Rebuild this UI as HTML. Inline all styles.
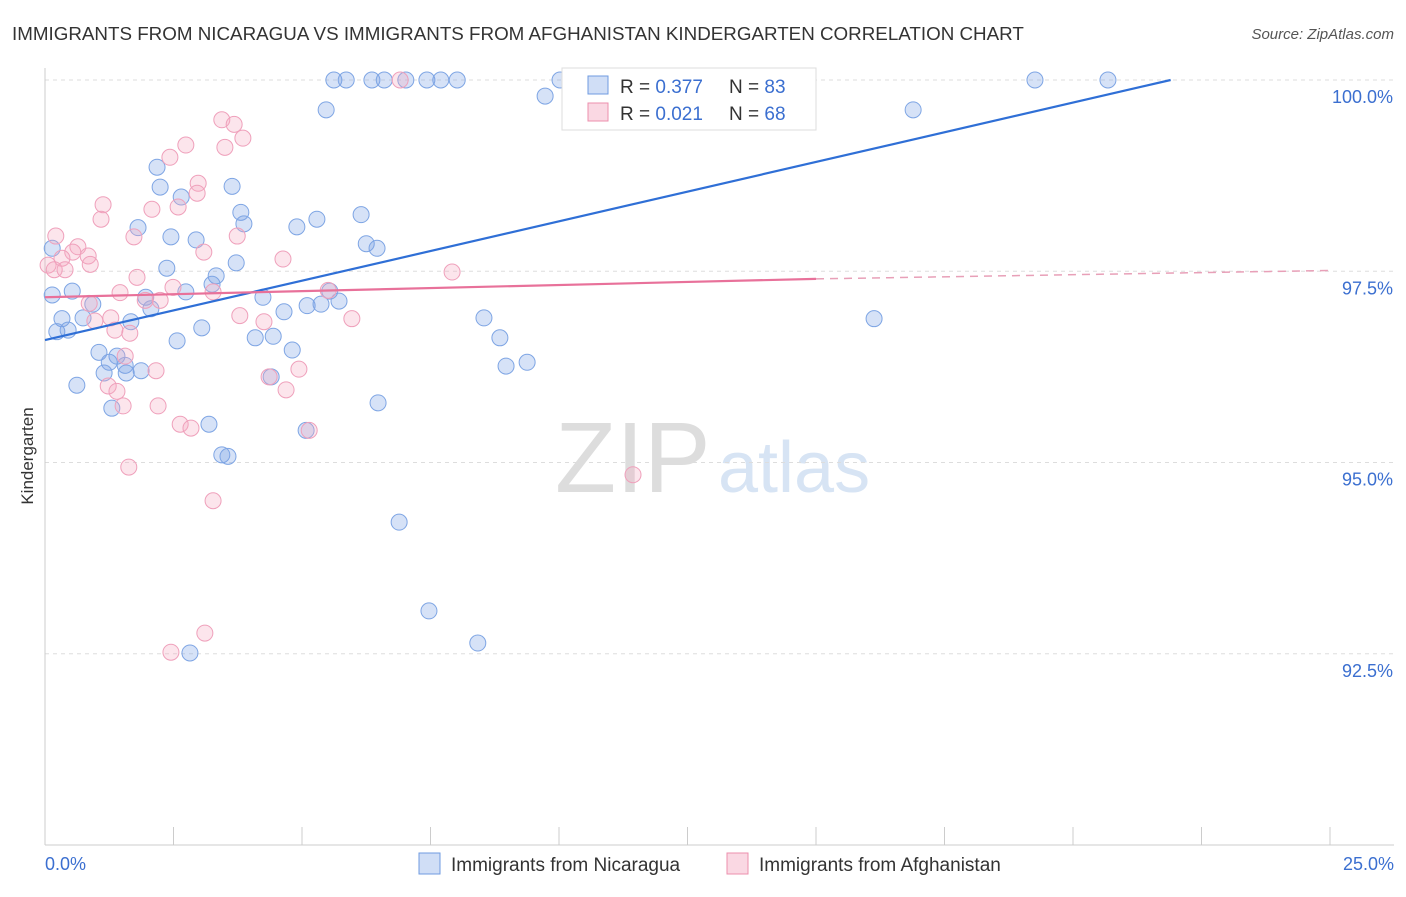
<!DOCTYPE html>
<html><head><meta charset="utf-8"><style>
body{margin:0;background:#fff;font-family:"Liberation Sans",sans-serif;}
svg text{font-family:"Liberation Sans",sans-serif;}
</style></head><body>
<svg id="chart" width="1406" height="892" xmlns="http://www.w3.org/2000/svg">
<text x="12" y="40" font-size="18.8" fill="#333">IMMIGRANTS FROM NICARAGUA VS IMMIGRANTS FROM AFGHANISTAN KINDERGARTEN CORRELATION CHART</text>
<text x="1394" y="39" font-size="15" fill="#555" text-anchor="end" font-style="italic">Source: ZipAtlas.com</text>
<text x="33" y="456" font-size="17" fill="#333" text-anchor="middle" transform="rotate(-90 33 456)">Kindergarten</text>
<text x="555" y="492" font-size="100" fill="#ddd" font-family="Liberation Serif">ZIP</text>
<text x="718" y="492" font-size="72" fill="#d7e4f4">atlas</text>
<g id="grid"></g><g id="axes"></g><g id="marks"></g>
<g>
<rect x="562" y="68" width="254" height="62" fill="#fff" stroke="#ddd"/>
<rect x="588" y="76" width="20" height="18" fill="rgba(120,160,230,0.35)" stroke="#6f9be0"/>
<text x="620" y="93" font-size="19" fill="#333">R = <tspan fill="#3b6fd0">0.377</tspan></text>
<text x="729" y="93" font-size="19" fill="#333">N = <tspan fill="#3b6fd0">83</tspan></text>
<rect x="588" y="103" width="20" height="18" fill="rgba(244,169,192,0.45)" stroke="#ec8fae"/>
<text x="620" y="120" font-size="19" fill="#333">R = <tspan fill="#3b6fd0">0.021</tspan></text>
<text x="729" y="120" font-size="19" fill="#333">N = <tspan fill="#3b6fd0">68</tspan></text>
</g>
<g>
<rect x="419" y="853" width="21" height="21" fill="rgba(120,160,230,0.35)" stroke="#6f9be0"/>
<text x="451" y="871" font-size="19" fill="#333">Immigrants from Nicaragua</text>
<rect x="727" y="853" width="21" height="21" fill="rgba(244,169,192,0.45)" stroke="#ec8fae"/>
<text x="759" y="871" font-size="19" fill="#333">Immigrants from Afghanistan</text>
</g>
</svg>
<script>
const blueX=[5.62,5.86,6.36,6.60,7.02,7.43,7.70,8.02,10.02,11.98,19.26,20.68,5.47,9.73,16.89,2.18,2.24,2.65,3.64,3.81,3.87,1.81,2.45,2.94,4.90,5.29,6.15,6.25,6.46,3.72,2.37,3.33,3.25,2.74,1.96,2.06,4.24,4.65,5.10,5.37,5.72,5.54,0.14,0.14,0.53,0.93,0.33,0.74,0.23,0.45,1.67,3.05,2.57,4.09,4.44,4.81,1.05,1.40,1.25,1.56,1.87,1.15,1.58,0.62,1.30,3.19,3.44,3.56,6.48,8.54,8.85,8.97,9.38,16.13,6.89,7.47,8.42,2.82,5.08,4.40];
const blueY=[100,100,100,100,100,100,100,100,100,100,100,100,99.61,99.79,99.61,98.86,98.60,98.47,98.61,98.27,98.12,98.07,97.95,97.91,98.08,98.18,98.24,97.86,97.80,97.61,97.54,97.44,97.33,97.23,97.16,97.01,97.16,96.97,97.05,97.07,97.11,97.24,97.80,97.19,97.24,97.07,96.88,96.89,96.71,96.73,96.84,96.76,96.59,96.63,96.65,96.47,96.44,96.39,96.31,96.27,96.20,96.17,96.17,96.01,95.71,95.50,95.10,95.08,95.78,96.89,96.63,96.26,96.31,96.88,94.22,93.06,92.64,92.51,95.42,96.12];
const pinkX=[6.91,10.41,3.44,3.68,3.85,2.74,2.43,3.50,2.98,2.96,1.13,1.09,2.08,2.59,0.21,1.73,3.74,0.64,0.54,0.84,0.33,0.06,0.18,0.39,0.88,3.09,4.63,1.79,7.92,1.46,2.49,0.86,1.95,2.24,5.51,3.27,3.79,4.26,5.97,0.97,1.28,1.36,1.65,1.56,1.23,1.40,1.52,2.16,4.36,4.69,4.94,2.20,2.63,2.84,5.14,1.63,11.44,3.27,3.11,2.45];
const pinkY=[100,100,99.48,99.42,99.24,99.15,98.99,99.12,98.65,98.52,98.37,98.18,98.31,98.34,97.96,97.95,97.96,97.82,97.75,97.70,97.67,97.58,97.52,97.52,97.59,97.75,97.66,97.42,97.49,97.22,97.29,97.08,97.12,97.12,97.25,97.23,96.92,96.84,96.88,96.85,96.89,96.73,96.69,96.39,96.00,95.93,95.74,96.20,96.12,95.95,96.22,95.74,95.50,95.45,95.42,94.94,94.84,94.50,92.77,92.52];
const yTicks=[100,97.5,95,92.5];
const yTickLabels=["100.0%","97.5%","95.0%","92.5%"];
const xTicks=[0,2.5,5,7.5,10,12.5,15,17.5,20,22.5,25];
const blueTrend=[[0,96.6],[21.9,100]];
const pinkTrendSolid=[[0,97.16],[15,97.4]];
const pinkTrendDash=[[15,97.4],[25,97.51]];
const NS="http://www.w3.org/2000/svg";
const sx=v=>45+v*51.4, sy=v=>80+(100-v)*76.5;
function mk(tag,attrs,parent){const e=document.createElementNS(NS,tag);for(const k in attrs)e.setAttribute(k,attrs[k]);parent.appendChild(e);return e;}
const grid=document.getElementById('grid'),axes=document.getElementById('axes'),marks=document.getElementById('marks');
yTicks.forEach((t,i)=>{
 const l=mk('line',{x1:45,x2:1394,y1:sy(t),y2:sy(t),stroke:'#ddd','stroke-dasharray':'4,4'},grid);
 
 
 const tx=mk('text',{x:1393,y:sy(t)+23,'font-size':18,fill:'#3b6fd0','text-anchor':'end'},axes);
 tx.textContent=yTickLabels[i];
 
 
});
const xa=mk('line',{x1:45,x2:1394,y1:845,y2:845,stroke:'#ccc'},axes);


const ya=mk('line',{x1:45,x2:45,y1:68,y2:845,stroke:'#ccc'},axes);


xTicks.forEach(t=>{
 const l=mk('line',{x1:sx(t),x2:sx(t),y1:827,y2:845,stroke:'#ccc'},axes);
 
 
});
const xl0=mk('text',{x:45,y:870,'font-size':18,fill:'#3b6fd0'},axes);xl0.textContent="0.0%";


const xl1=mk('text',{x:1394,y:870,'font-size':18,fill:'#3b6fd0','text-anchor':'end'},axes);xl1.textContent="25.0%";


blueX.forEach((x,i)=>{
 const c=mk('circle',{cx:sx(x),cy:sy(blueY[i]),r:8,fill:'rgba(120,160,230,0.3)',stroke:'#7ea5e4','stroke-width':1},marks);
 
 
});
pinkX.forEach((x,i)=>{
 const c=mk('circle',{cx:sx(x),cy:sy(pinkY[i]),r:8,fill:'rgba(244,169,192,0.3)',stroke:'#efa0bb','stroke-width':1},marks);
 
 
});
const bt=mk('line',{x1:sx(blueTrend[0][0]),y1:sy(blueTrend[0][1]),x2:sx(blueTrend[1][0]),y2:sy(blueTrend[1][1]),stroke:'#2f6fd6','stroke-width':2.2},marks);


const pt=mk('line',{x1:sx(pinkTrendSolid[0][0]),y1:sy(pinkTrendSolid[0][1]),x2:sx(pinkTrendSolid[1][0]),y2:sy(pinkTrendSolid[1][1]),stroke:'#e8719a','stroke-width':2.2},marks);


const pd=mk('line',{x1:sx(pinkTrendDash[0][0]),y1:sy(pinkTrendDash[0][1]),x2:sx(pinkTrendDash[1][0]),y2:sy(pinkTrendDash[1][1]),stroke:'#e8a0b8','stroke-width':1.5,'stroke-dasharray':'8,6'},marks);


</script>
</body></html>
